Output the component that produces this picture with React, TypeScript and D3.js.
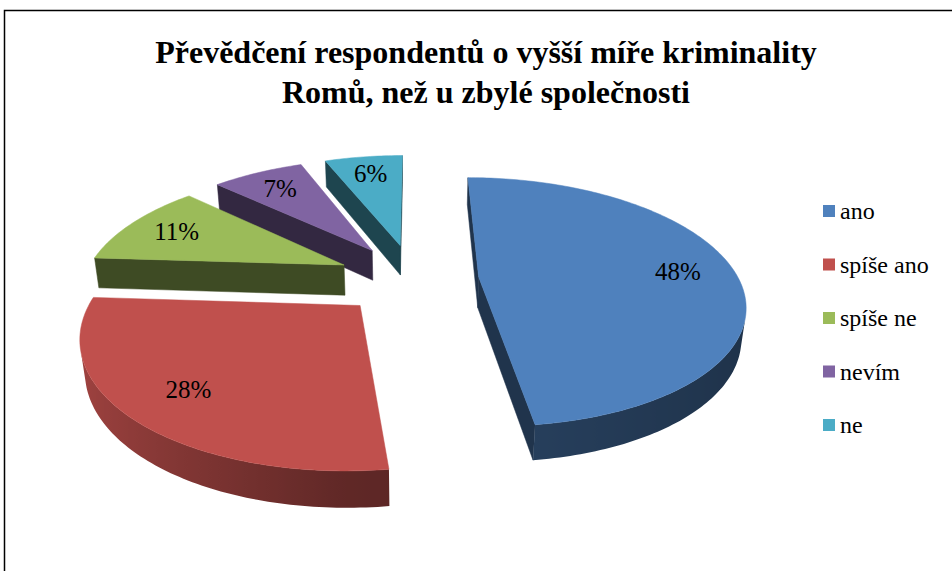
import React from "react";
import * as d3 from "d3";

// chart data
const categories = ["ano", "spíše ano", "spíše ne", "nevím", "ne"];
const values = [48, 28, 11, 7, 6];
const colors = ["#4F81BD", "#C0504D", "#9BBB59", "#8064A2", "#4BACC6"];
const titleLines = ["Převědčení respondentů o vyšší míře kriminality", "Romů, než u zbylé společnosti"];

const WIDTH = 952;
const HEIGHT = 571;

// 3D camera settings (pie radius = 1 in world units)
const THETA = (27.5 * Math.PI) / 180;
const DIST = 4.435;
const FOCAL = 1153;
const CX = 414;
const CY = 279;
const THICK = 0.135;
const sinT = Math.sin(THETA);
const cosT = Math.cos(THETA);
const explodeBy = [0.25, 0.29, 0.3, 0.3, 0.3];

type P3 = [number, number, number];

// x right, h up, z toward the viewer
function project([x, h, z]: P3): [number, number] {
  const depth = DIST - h * sinT - z * cosT;
  const yc = h * cosT - z * sinT;
  return [CX + (FOCAL * x) / depth, CY - (FOCAL * yc) / depth];
}

// is a face with normal n at point p turned toward the camera?
function facing(p: P3, n: P3) {
  const cam: P3 = [0, DIST * sinT, DIST * cosT];
  return (cam[0] - p[0]) * n[0] + (cam[1] - p[1]) * n[1] + (cam[2] - p[2]) * n[2] > 0;
}

const shade = (c: string, k: number) => {
  const r = d3.rgb(c);
  return d3.rgb(r.r * k, r.g * k, r.b * k).formatHex();
};

const pts = (arr: [number, number][]) => arr.map((p) => p[0].toFixed(2) + "," + p[1].toFixed(2)).join(" ");

const App = () => {
  const pie = d3.pie<number>().sort(null).value((d) => d)(values);
  const total = d3.sum(values);

  const slices = pie.map((s, i) => {
    const mid = (s.startAngle + s.endAngle) / 2;
    const ox = explodeBy[i] * Math.sin(mid);
    const oz = -explodeBy[i] * Math.cos(mid);
    const steps = Math.max(4, Math.ceil(((s.endAngle - s.startAngle) * 180) / Math.PI));
    const angles = d3.range(steps + 1).map((k) => s.startAngle + ((s.endAngle - s.startAngle) * k) / steps);
    const rim = (a: number, h: number): P3 => [ox + Math.sin(a), h, oz - Math.cos(a)];
    const apexTop: P3 = [ox, 0, oz];
    const apexBot: P3 = [ox, -THICK, oz];

    const cuts: [number, number][][] = [];
    const n0: P3 = [-Math.cos(s.startAngle), 0, -Math.sin(s.startAngle)];
    if (facing(apexTop, n0)) {
      cuts.push([apexTop, rim(s.startAngle, 0), rim(s.startAngle, -THICK), apexBot].map(project));
    }
    const n1: P3 = [Math.cos(s.endAngle), 0, Math.sin(s.endAngle)];
    if (facing(apexTop, n1)) {
      cuts.push([apexTop, rim(s.endAngle, 0), rim(s.endAngle, -THICK), apexBot].map(project));
    }

    // visible part of the curved side, shaded by a gradient along x
    const vis = angles.filter((a) => facing(rim(a, 0), [Math.sin(a), 0, -Math.cos(a)]));
    let side: { d: [number, number][]; stops: { x: number; c: string }[] } | null = null;
    if (vis.length > 1) {
      const top = vis.map((a) => project(rim(a, 0)));
      const bot = vis.map((a) => project(rim(a, -THICK))).reverse();
      const stops = vis.map((a) => {
        const nx = Math.sin(a);
        const b = nx < 0 ? 0.5 - 0.35 * nx : 0.5 - 0.12 * nx;
        return { x: project(rim(a, 0))[0], c: shade(colors[i], b) };
      });
      side = { d: [...top, ...bot], stops: stops.sort((p, q) => p.x - q.x) };
    }

    const topFace = [apexTop, ...angles.map((a) => rim(a, 0))].map(project);
    const lab = project([ox + 0.78 * Math.sin(mid), 0, oz - 0.78 * Math.cos(mid)]);
    const depthKey = oz - 0.5 * Math.cos(mid);
    return { cuts, side, topFace, lab, depthKey, i, pct: Math.round((s.data / total) * 100) };
  });

  const drawOrder = [...slices].sort((a, b) => a.depthKey - b.depthKey);

  const serif = "'Liberation Serif', 'Times New Roman', serif";

  return (
    <svg width={WIDTH} height={HEIGHT} style={{ position: "absolute", left: 0, top: 0, background: "#fff" }}>
      <defs>
        {slices.map((s) => {
          if (!s.side) return null;
          const x0 = s.side.stops[0].x;
          const x1 = s.side.stops[s.side.stops.length - 1].x;
          return (
            <linearGradient key={s.i} id={`side${s.i}`} gradientUnits="userSpaceOnUse" x1={x0} x2={x1} y1={0} y2={0}>
              {s.side.stops.map((st, k) => (
                <stop key={k} offset={x1 > x0 ? (st.x - x0) / (x1 - x0) : 0} stopColor={st.c} />
              ))}
            </linearGradient>
          );
        })}
      </defs>

      <rect x={4.5} y={10.5} width={1000} height={1000} fill="none" stroke="#000" strokeWidth={1.5} />

      {titleLines.map((t, k) => (
        <text key={k} x={486} y={63 + k * 40} textAnchor="middle" fontFamily={serif} fontWeight="bold" fontSize={32}>
          {t}
        </text>
      ))}

      {drawOrder.map((s) => (
        <g key={s.i}>
          {s.cuts.map((c, k) => (
            <polygon key={k} points={pts(c)} fill={shade(colors[s.i], 0.4)} stroke={shade(colors[s.i], 0.4)} strokeWidth={0.5} />
          ))}
          {s.side && <polygon points={pts(s.side.d)} fill={`url(#side${s.i})`} />}
          <polygon points={pts(s.topFace)} fill={colors[s.i]} stroke={colors[s.i]} strokeWidth={0.5} />
        </g>
      ))}

      {slices.map((s) => (
        <text
          key={s.i}
          x={s.lab[0]}
          y={s.lab[1]}
          textAnchor="middle"
          dominantBaseline="central"
          fontFamily={serif}
          fontSize={25}
        >
          {s.pct}%
        </text>
      ))}

      {categories.map((c, i) => (
        <g key={c} transform={`translate(823, ${205 + i * 53.5})`}>
          <rect width={12} height={12} fill={colors[i]} />
          <text x={17} y={14} fontFamily={serif} fontSize={24}>
            {c}
          </text>
        </g>
      ))}
    </svg>
  );
};

export default App;
